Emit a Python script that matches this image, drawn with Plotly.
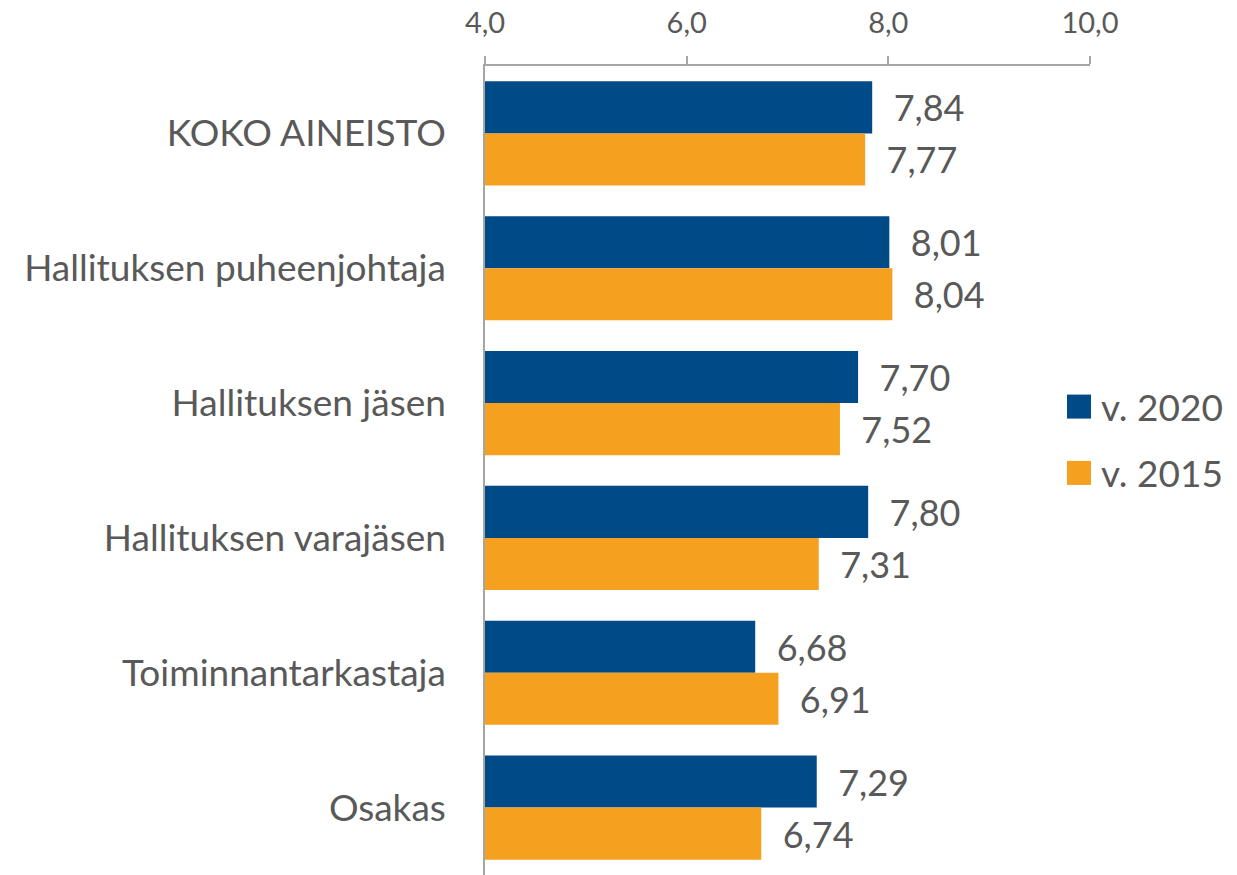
import plotly.graph_objects as go

categories = [
    "KOKO AINEISTO",
    "Hallituksen puheenjohtaja",
    "Hallituksen jäsen",
    "Hallituksen varajäsen",
    "Toiminnantarkastaja",
    "Osakas",
]
values_2020 = [7.84, 8.01, 7.70, 7.80, 6.68, 7.29]
values_2015 = [7.77, 8.04, 7.52, 7.31, 6.91, 6.74]
series_names = ["v. 2020", "v. 2015"]
colors = ["#004A87", "#F5A01F"]
tick_values = [4, 6, 8, 10]

FONT = "Lato"
GREY = "#595959"

fig = go.Figure()
for name, vals, col in zip(series_names, [values_2020, values_2015], colors):
    fig.add_trace(go.Bar(
        y=categories, x=vals, base=0, orientation="h", name=name,
        marker=dict(color=col, line=dict(width=0)),
        texttemplate="\u00a0\u00a0%{x:.2f}", textposition="outside",
        textfont=dict(family=FONT, size=36, color=GREY),
        constraintext="none", cliponaxis=False, showlegend=False,
    ))

# legend: large square keys with their labels at the right of the plot
legend_y = [0.579, 0.497]
shapes = []
for name, col, yy in zip(series_names, colors, legend_y):
    shapes.append(dict(type="rect", xref="paper", yref="paper",
                       xsizemode="pixel", ysizemode="pixel",
                       xanchor=1.0, yanchor=yy,
                       x0=-23, x1=1, y0=-12, y1=12,
                       line=dict(width=0), fillcolor=col))
    fig.add_annotation(x=1.0, y=yy, xref="paper", yref="paper",
                       text=name, showarrow=False, xanchor="left",
                       xshift=9, font=dict(family=FONT, size=37, color=GREY))

fig.update_layout(
    shapes=shapes,
    width=1237, height=875,
    margin=dict(l=485, r=147, t=66, b=0),
    paper_bgcolor="white", plot_bgcolor="white",
    barmode="group", bargap=0.228, bargroupgap=0,
    separators=", ",
    font=dict(family=FONT, color=GREY),
    xaxis=dict(
        side="top", range=[4, 10], tickvals=tick_values, tickformat=".1f",
        showgrid=False, zeroline=False, showline=True, linecolor="#A6A6A6",
        linewidth=1.5, ticks="outside", ticklen=8, tickcolor="#A6A6A6",
        tickwidth=1.5, tickfont=dict(family=FONT, size=29, color=GREY),
        ticklabelstandoff=12,
    ),
    yaxis=dict(
        autorange="reversed", showgrid=False, zeroline=False, showline=True,
        linecolor="#A6A6A6", linewidth=1.5, ticks="",
        tickfont=dict(family=FONT, size=37, color=GREY),
        ticklabelstandoff=30,
    ),
)

fig.write_html("out.html")
